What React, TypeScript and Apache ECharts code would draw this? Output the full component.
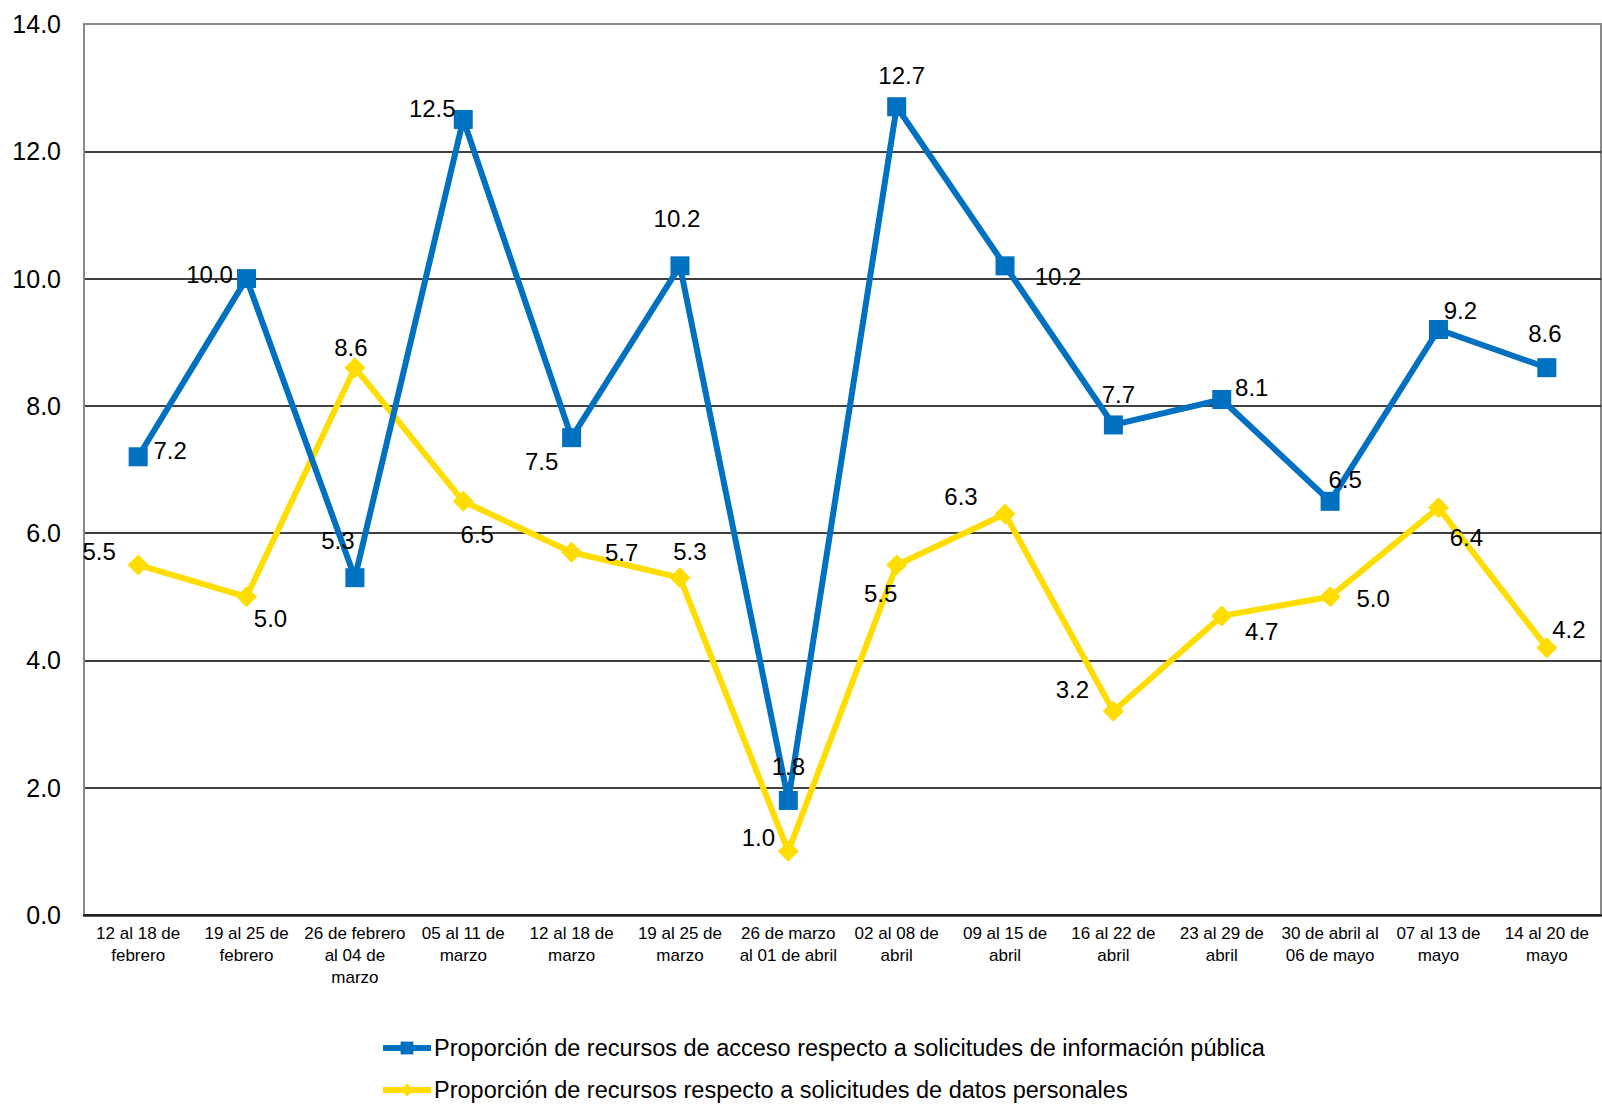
import React, { useEffect, useRef } from "react";
import * as echarts from "echarts";

const categories = [
  "12 al 18 de\nfebrero",
  "19 al 25 de\nfebrero",
  "26 de febrero\nal 04 de\nmarzo",
  "05 al 11 de\nmarzo",
  "12 al 18 de\nmarzo",
  "19 al 25 de\nmarzo",
  "26 de marzo\nal 01 de abril",
  "02 al 08 de\nabril",
  "09 al 15 de\nabril",
  "16 al 22 de\nabril",
  "23 al 29 de\nabril",
  "30 de abril al\n06 de mayo",
  "07 al 13 de\nmayo",
  "14 al 20 de\nmayo",
];

const publicaValues = [7.2, 10.0, 5.3, 12.5, 7.5, 10.2, 1.8, 12.7, 10.2, 7.7, 8.1, 6.5, 9.2, 8.6];
const personalesValues = [5.5, 5.0, 8.6, 6.5, 5.7, 5.3, 1.0, 5.5, 6.3, 3.2, 4.7, 5.0, 6.4, 4.2];

const publicaName = "Proporción de recursos de acceso respecto a solicitudes de información pública";
const personalesName = "Proporción de recursos respecto a solicitudes de datos personales";

const publicaOffsets = [
  [32, -6], [-37, -4], [-17, -37], [-31, -11], [-30, 24], [-3, -47], [0, -34],
  [5, -31], [53, 11], [5, -30], [30, -12], [15, -22], [22, -19], [-2, -34],
];
const personalesOffsets = [
  [-39, -13], [24, 22], [-4, -20], [14, 33], [50, 0], [10, -26], [-30, -14],
  [-16, 29], [-44, -18], [-41, -22], [40, 16], [43, 2], [28, 30], [22, -18],
];

const labelFont = "Liberation Sans, Arial, sans-serif";
const blue = "#0070C0";
const yellow = "#FFDD00";

function buildData(values: number[], offsets: number[][]) {
  return values.map((v, i) => ({
    value: v,
    label: {
      show: true,
      position: "inside",
      offset: offsets[i],
      formatter: (p: any) => Number(p.value).toFixed(1),
      color: "#000",
      fontSize: 24,
      fontFamily: labelFont,
    },
  }));
}

const legendBase = {
  orient: "horizontal",
  left: 375,
  itemWidth: 48,
  itemHeight: 16,
  itemGap: 0,
  lineStyle: { width: 6 },
  textStyle: { fontSize: 23.5, fontFamily: labelFont, color: "#000", padding: [0, 0, 0, -2] },
};

export default function App() {
  const ref = useRef<HTMLDivElement>(null);
  useEffect(() => {
    if (!ref.current) return;
    const chart = echarts.init(ref.current, undefined, { renderer: "svg" });
    chart.setOption({
      animation: false,
      backgroundColor: "#fff",
      grid: {
        left: 84,
        top: 24,
        right: 1,
        bottom: 190,
        show: true,
        borderColor: "#888",
        borderWidth: 2,
      },
      legend: [
        { ...legendBase, top: 1031, data: [publicaName] },
        { ...legendBase, top: 1073, data: [personalesName] },
      ],
      xAxis: {
        type: "category",
        data: categories,
        boundaryGap: true,
        axisLine: { show: true, lineStyle: { color: "#222", width: 2.5 } },
        axisTick: { show: false },
        axisLabel: {
          interval: 0,
          margin: 7,
          color: "#000",
          fontSize: 17,
          lineHeight: 22,
          fontFamily: "Liberation Sans Narrow, Arial Narrow, Liberation Sans, sans-serif",
        },
        splitLine: { show: false },
      },
      yAxis: {
        type: "value",
        min: 0,
        max: 14,
        interval: 2,
        axisLine: { show: true, lineStyle: { color: "#888", width: 2 } },
        axisTick: { show: false },
        axisLabel: {
          margin: 23,
          color: "#000",
          fontSize: 25,
          fontFamily: labelFont,
          formatter: (v: number) => v.toFixed(1),
        },
        splitLine: {
          show: true,
          lineStyle: {
            color: ["#000", "#000", "#000", "#000", "#000", "#000", "#000", "#888"],
            width: 1.5,
          },
        },
      },
      series: [
        {
          name: publicaName,
          type: "line",
          data: buildData(publicaValues, publicaOffsets),
          symbol: "rect",
          symbolSize: 19,
          color: blue,
          lineStyle: { width: 6, color: blue },
          itemStyle: { color: blue },
          z: 3,
        },
        {
          name: personalesName,
          type: "line",
          data: buildData(personalesValues, personalesOffsets),
          symbol: "diamond",
          symbolSize: 21,
          color: yellow,
          lineStyle: { width: 6, color: yellow },
          itemStyle: { color: yellow },
          z: 2,
        },
      ],
    });
    return () => chart.dispose();
  }, []);
  return (
    <div
      ref={ref}
      style={{ position: "fixed", left: 0, top: 0, width: 1602, height: 1105 }}
    />
  );
}
